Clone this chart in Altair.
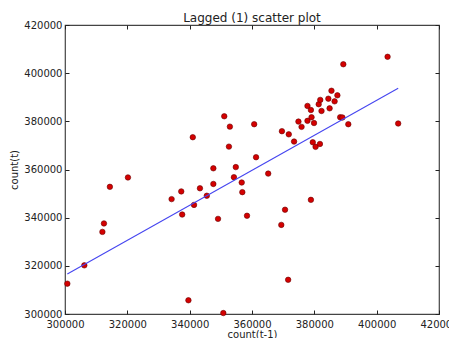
import altair as alt
import pandas as pd

# count(t-1) and count(t) values
count_prev = [300750, 306200, 312000, 312500, 314400, 320200, 334200, 337300, 337600, 339600,
              341000, 341400, 343300, 345500, 347600, 347600, 349100, 350800, 351100, 352900,
              352600, 354200, 354800, 356700, 356900, 358400, 360700, 361300, 365200, 369400,
              369600, 370600, 371600, 371800, 373500, 374900, 375900, 377800, 377800, 378900,
              378900, 379100, 379500, 379900, 380400, 381400, 381900, 381800, 382300, 384500,
              384900, 385500, 386500, 387400, 388300, 389000, 389300, 390900, 403500, 406900]
count_curr = [312600, 320200, 334100, 337600, 352800, 356700, 347700, 350900, 341300, 305700,
              373400, 345300, 352200, 349100, 360500, 354000, 339500, 300400, 382100, 377800,
              369500, 356800, 361000, 354600, 350600, 340800, 378800, 365100, 358300, 337000,
              375900, 343300, 314200, 374600, 371600, 379900, 377700, 386400, 380200, 347400,
              384700, 381700, 371300, 379300, 369400, 387100, 388900, 370600, 384300, 389400,
              385400, 392700, 388300, 390800, 381700, 381600, 403700, 378800, 406800, 379100]
# fitted line end points
fit_prev = [300750, 406900]
fit_curr = [316600, 393700]
tick_values = [300000, 320000, 340000, 360000, 380000, 400000, 420000]

df = pd.DataFrame({"prev": count_prev, "curr": count_curr})
fit_df = pd.DataFrame({"prev": fit_prev, "curr": fit_curr})

FONT = "DejaVu Sans"
xs = alt.Scale(domain=[300000, 420000], nice=False, zero=False)
ys = alt.Scale(domain=[300000, 420000], nice=False, zero=False)

common = dict(domain=False, grid=False, tickSize=4, offset=-4, tickColor="#222",
              tickWidth=1, values=tick_values, format="d", labelFlush=False,
              labelOverlap=False,
              labelFont=FONT, labelFontSize=10, labelColor="#222",
              titleFont=FONT, titleFontSize=10, titleFontWeight="normal", titleColor="#222")

pts = alt.Chart(df).mark_circle(size=30, color="#d40000", stroke="#6a0000",
                                strokeWidth=0.6, opacity=1).encode(
    x=alt.X("prev:Q", scale=xs,
            axis=alt.Axis(orient="bottom", title="count(t-1)", labelPadding=5,
                          titlePadding=0, **common)),
    y=alt.Y("curr:Q", scale=ys,
            axis=alt.Axis(orient="left", title="count(t)", labelPadding=3,
                          titlePadding=4, **common)),
)

line = alt.Chart(fit_df).mark_line(color="#4646f0", strokeWidth=1.1).encode(
    x=alt.X("prev:Q", scale=xs, title=None,
            axis=alt.Axis(orient="top", labels=False, **common)),
    y=alt.Y("curr:Q", scale=ys, title=None,
            axis=alt.Axis(orient="right", labels=False, **common)),
)

chart = alt.layer(pts, line).resolve_axis(x="independent", y="independent").properties(
    width=374, height=289,
    title=alt.Title("Lagged (1) scatter plot", font=FONT, fontSize=12,
                    fontWeight="normal", color="#222", offset=-5),
    autosize="none",
    padding={"left": 57, "top": 17, "right": 10, "bottom": 24},
).configure_view(stroke="#444", strokeWidth=1.2)

chart.save("out.html", embed_options={"renderer": "svg", "actions": False})
